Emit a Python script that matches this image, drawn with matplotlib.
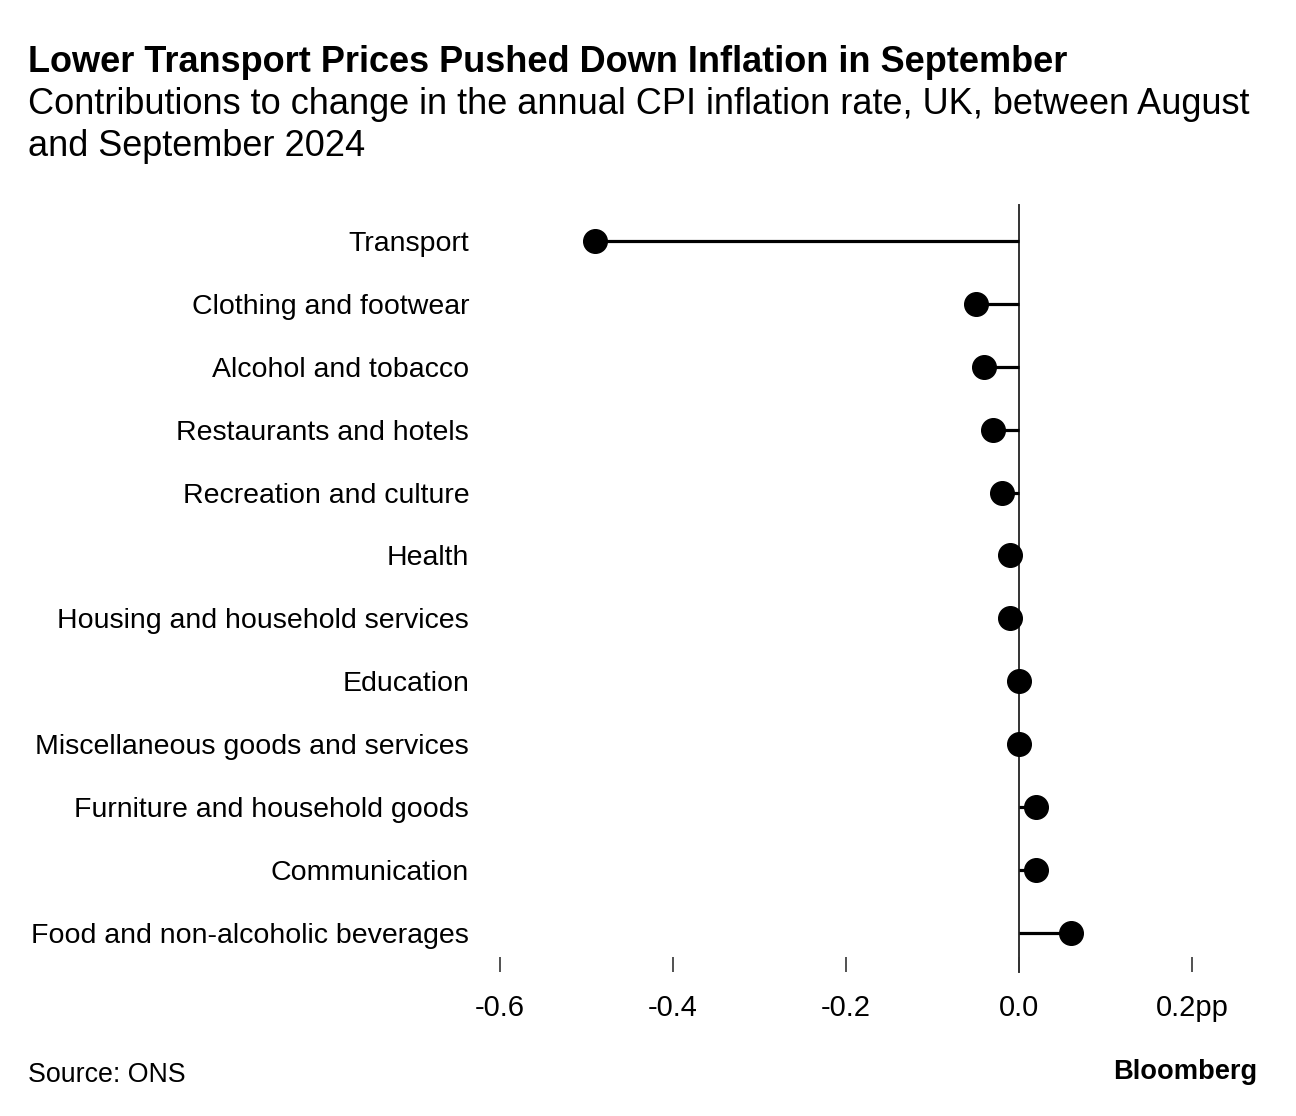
import matplotlib.pyplot as plt

categories = [
    "Transport",
    "Clothing and footwear",
    "Alcohol and tobacco",
    "Restaurants and hotels",
    "Recreation and culture",
    "Health",
    "Housing and household services",
    "Education",
    "Miscellaneous goods and services",
    "Furniture and household goods",
    "Communication",
    "Food and non-alcoholic beverages",
]
values = [-0.49, -0.05, -0.04, -0.03, -0.02, -0.01, -0.01, 0.0, 0.0, 0.02, 0.02, 0.06]
tick_values = [-0.6, -0.4, -0.2, 0.0, 0.2]
tick_labels = ["-0.6", "-0.4", "-0.2", "0.0", "0.2pp"]

plt.rcParams['font.family'] = ['Liberation Sans', 'DejaVu Sans']

W, H = 1296, 1116
fig = plt.figure(figsize=(W / 100, H / 100), dpi=100)
ax = fig.add_axes([490 / W, 1 - 957 / H, 740 / W, (957 - 205) / H])

ypos = list(range(len(categories)))
ax.hlines(ypos, 0, values, color="black", lw=2.3, zorder=2)
ax.plot(values, ypos, "o", color="black", ms=17, zorder=3)
ax.axvline(0, ymin=-0.02, ymax=1, color="#333333", lw=1.4, clip_on=False, zorder=1)

ax.set_xlim(-0.6116, 0.2439)
ax.set_ylim(11.383, -0.572)
ax.set_yticks(ypos)
ax.set_yticklabels(categories, fontsize=20.5)
ax.set_xticks(tick_values)
ax.set_xticklabels(tick_labels, fontsize=21)
ax.tick_params(axis="y", length=0, pad=15)
ax.tick_params(axis="x", direction="out", length=11, width=1.2, color="#333333", pad=16)
for s in ax.spines.values():
    s.set_visible(False)

fig.text(28 / W, 1 - 62 / H, "Lower Transport Prices Pushed Down Inflation in September",
         fontsize=26, fontweight="bold", va="center", ha="left")
fig.text(28 / W, 1 - 104 / H, "Contributions to change in the annual CPI inflation rate, UK, between August",
         fontsize=26, va="center", ha="left")
fig.text(28 / W, 1 - 146 / H, "and September 2024",
         fontsize=26, va="center", ha="left")
fig.text(28 / W, 1 - 1075 / H, "Source: ONS", fontsize=19.3, va="center", ha="left")
fig.text(1257 / W, 1 - 1072 / H, "Bloomberg", fontsize=19.6, fontweight="bold", va="center", ha="right")

fig.savefig("out.png", dpi=100, facecolor="white")
